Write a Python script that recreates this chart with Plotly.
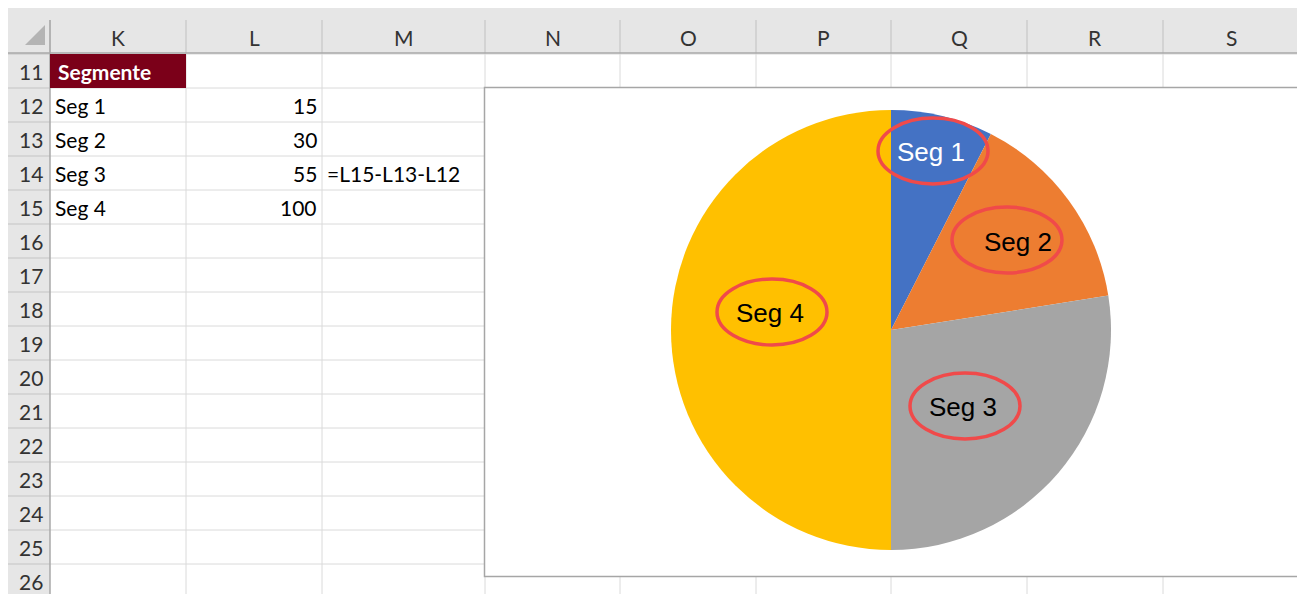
import math
import plotly.graph_objects as go

# ---------------- data ----------------
segments = ["Seg 1", "Seg 2", "Seg 3", "Seg 4"]
values = [15, 30, 55, 100]
formula_note = "=L15-L13-L12"
header_title = "Segmente"
column_letters = ["K", "L", "M", "N", "O", "P", "Q", "R", "S"]
row_numbers = list(range(11, 27))

# ---------------- styles / geometry (page pixels) ----------------
W, H = 1305, 594
OFF = 8  # browser body margin
col_edges = [50, 186, 322, 485, 620, 756, 891, 1027, 1163, 1299]
row_top = 54
row_h = 34
header_top, header_bot = 5, 53
rowhdr_left, rowhdr_right = 7, 50
chart_box = (484.5, 87.5, 1298, 576.5)
pie_cx, pie_cy, pie_r = 891, 330, 220
colors = ["#4472C4", "#ED7D31", "#A5A5A5", "#FFC000"]
label_colors = ["white", "black", "black", "black"]
label_rfrac = [0.83, 0.70, 0.48, 0.555]
label_angle_nudge = [-0.8, 1.3, 6.5, 8.0]
ellipse_centers = [(933, 151), (1007, 240), (965, 406), (772, 312)]
ellipse_half = (55, 33)
cell_font = "Lato, Calibri, Carlito, sans-serif"
cell_size = 21
chart_font = "Liberation Sans, Arial, sans-serif"

FW, FH = W - OFF, H - OFF

fig = go.Figure()

# invisible scatter to establish pixel axes
fig.add_trace(go.Scatter(x=[OFF, W], y=[OFF, H], mode="markers",
                         marker=dict(opacity=0), hoverinfo="skip", showlegend=False))

shapes = []
annos = []

# header bars
shapes.append(dict(type="rect", x0=rowhdr_left, x1=W, y0=header_top, y1=header_bot,
                   fillcolor="#E6E6E6", line=dict(width=0), layer="below"))
shapes.append(dict(type="rect", x0=rowhdr_left, x1=rowhdr_right, y0=header_top, y1=H,
                   fillcolor="#E6E6E6", line=dict(width=0), layer="below"))
# corner triangle
shapes.append(dict(type="path", path="M 45 25 L 45 45 L 25 45 Z",
                   fillcolor="#B4B4B4", line=dict(width=0), layer="below"))

# cell grid lines
n_rows = len(row_numbers)
for k in range(n_rows + 1):
    y = row_top + k * row_h
    shapes.append(dict(type="line", x0=rowhdr_right, x1=W, y0=y, y1=y,
                       line=dict(color="#DADADA", width=1), layer="below"))
    shapes.append(dict(type="line", x0=rowhdr_left, x1=rowhdr_right, y0=y, y1=y,
                       line=dict(color="#C4C4C4", width=1), layer="below"))
for x in col_edges[1:]:
    shapes.append(dict(type="line", x0=x, x1=x, y0=header_bot, y1=H,
                       line=dict(color="#DADADA", width=1), layer="below"))
for x in col_edges:
    shapes.append(dict(type="line", x0=x, x1=x, y0=20, y1=header_bot,
                       line=dict(color="#C0C0C0", width=1), layer="below"))
# header borders
shapes.append(dict(type="line", x0=rowhdr_left, x1=W, y0=header_bot, y1=header_bot,
                   line=dict(color="#A8A8A8", width=1.5), layer="below"))
shapes.append(dict(type="line", x0=rowhdr_right, x1=rowhdr_right, y0=20, y1=H,
                   line=dict(color="#A8A8A8", width=1.5), layer="below"))

# "Segmente" header cell
shapes.append(dict(type="rect", x0=col_edges[0], x1=col_edges[1], y0=row_top, y1=row_top + row_h,
                   fillcolor="#7B0019", line=dict(width=0), layer="below"))

# chart area
shapes.append(dict(type="rect", x0=chart_box[0], y0=chart_box[1], x1=chart_box[2], y1=chart_box[3],
                   fillcolor="white", line=dict(color="#A6A6A6", width=1.5), layer="below"))

# column letters
for i, c in enumerate(column_letters):
    xc = (col_edges[i] + col_edges[i + 1]) / 2
    annos.append(dict(x=xc, y=(20 + header_bot) / 2 + 1, text=c, showarrow=False,
                      font=dict(family=cell_font, size=cell_size, color="#333333"),
                      xanchor="center", yanchor="middle"))
# row numbers
for k, r in enumerate(row_numbers):
    yc = row_top + k * row_h + row_h / 2
    annos.append(dict(x=(rowhdr_left + rowhdr_right) / 2 + 2, y=yc, text=str(r), showarrow=False,
                      font=dict(family=cell_font, size=cell_size, color="#333333"),
                      xanchor="center", yanchor="middle"))

# header cell text
annos.append(dict(x=col_edges[0] + 6, y=row_top + row_h / 2, text="<b>" + header_title + "</b>",
                  showarrow=False, font=dict(family=cell_font, size=cell_size, color="white"),
                  xanchor="left", yanchor="middle"))
# table rows
for k, (s, v) in enumerate(zip(segments, values)):
    yc = row_top + (k + 1) * row_h + row_h / 2
    annos.append(dict(x=col_edges[0] + 3, y=yc, text=s, showarrow=False,
                      font=dict(family=cell_font, size=cell_size, color="black"),
                      xanchor="left", yanchor="middle"))
    annos.append(dict(x=col_edges[2] - 3, y=yc, text=str(v), showarrow=False,
                      font=dict(family=cell_font, size=cell_size, color="black"),
                      xanchor="right", yanchor="middle"))
annos.append(dict(x=col_edges[2] + 3, y=row_top + 3 * row_h + row_h / 2, text=formula_note,
                  showarrow=False, font=dict(family=cell_font, size=cell_size, color="black"),
                  xanchor="left", yanchor="middle"))

# pie
fig.add_trace(go.Pie(
    labels=segments, values=values, sort=False, direction="clockwise", rotation=0,
    marker=dict(colors=colors, line=dict(width=0)),
    textinfo="none", hoverinfo="label+value", showlegend=False,
    domain=dict(x=[(pie_cx - pie_r - OFF) / FW, (pie_cx + pie_r - OFF) / FW],
                y=[1 - (pie_cy + pie_r - OFF) / FH, 1 - (pie_cy - pie_r - OFF) / FH]),
))

# pie labels, placed from the slice mid-angles
total = sum(values)
cum = 0
for i, (s, v) in enumerate(zip(segments, values)):
    mid = (cum + v / 2) / total * 360 + label_angle_nudge[i]
    cum += v
    rr = label_rfrac[i] * pie_r
    lx = pie_cx + rr * math.sin(math.radians(mid))
    ly = pie_cy - rr * math.cos(math.radians(mid))
    annos.append(dict(x=lx, y=ly, text=s, showarrow=False,
                      font=dict(family=chart_font, size=26, color=label_colors[i]),
                      xanchor="center", yanchor="middle"))

# red hand-drawn ellipses
for (ex, ey) in ellipse_centers:
    shapes.append(dict(type="circle", x0=ex - ellipse_half[0], x1=ex + ellipse_half[0],
                       y0=ey - ellipse_half[1], y1=ey + ellipse_half[1],
                       line=dict(color="#F04A4A", width=3.5), layer="above"))

fig.update_layout(
    width=FW, height=FH, margin=dict(l=0, r=0, t=0, b=0),
    paper_bgcolor="white", plot_bgcolor="white",
    xaxis=dict(range=[OFF, W], visible=False, fixedrange=True),
    yaxis=dict(range=[H, OFF], visible=False, fixedrange=True),
    shapes=shapes, annotations=annos, showlegend=False,
)

fig.write_html("out.html")
